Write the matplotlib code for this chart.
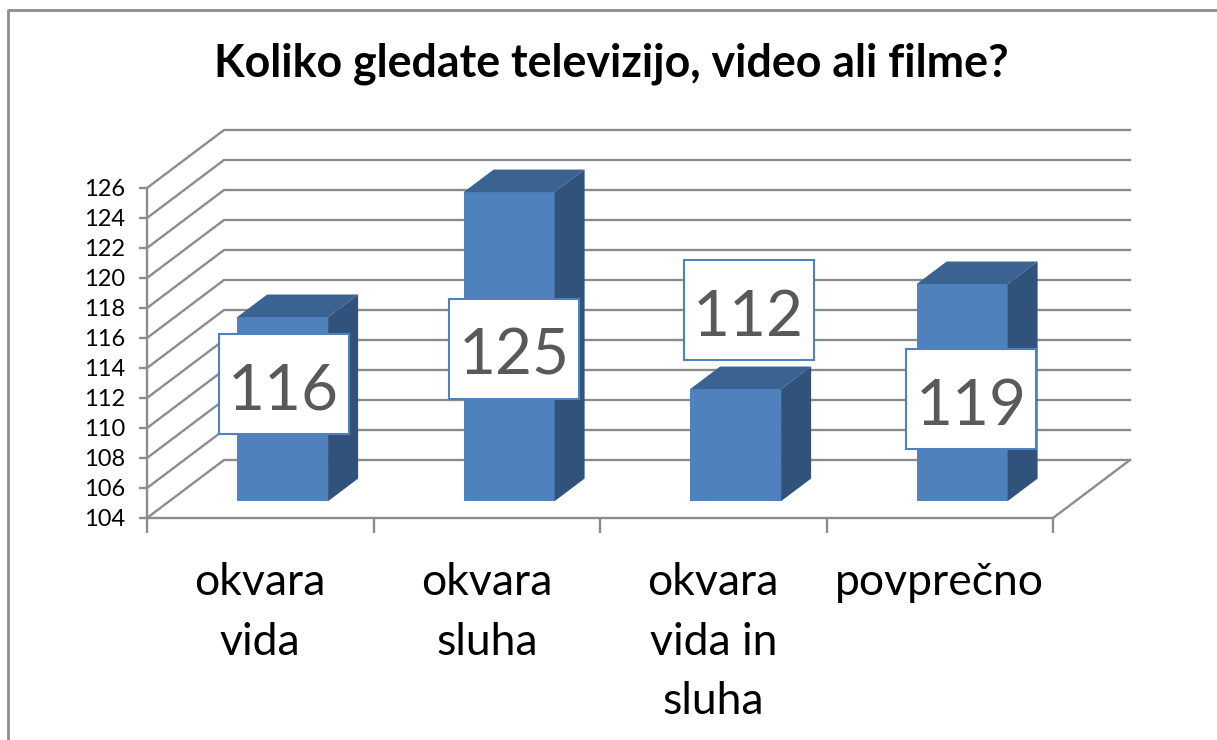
import numpy as np
import matplotlib
matplotlib.use('Agg')
import matplotlib.pyplot as plt
from matplotlib.lines import Line2D
from matplotlib.patches import Polygon
from matplotlib.path import Path

categories = ['okvara\nvida', 'okvara\nsluha', 'okvara\nvida in\nsluha', 'povprečno']
bar_heights = [116.27, 124.6, 111.47, 118.47]
value_labels = ['116', '125', '112', '119']
y_ticks = list(range(104, 128, 2))
title = 'Koliko gledate televizijo, video ali filme?'

W, H = 1217, 740
GRID = '#8c8c8c'
FRONT = '#4f81bd'
TOP = '#3b6391'
SIDE = '#31527b'

# depth of the fake 3d box, in data units
DX = 77 / 226.5
DY = 58 / 15.0
BAR_D0 = 0.29
BAR_D1 = 0.68
BAR_W = 91 / 226.5

# label offsets from top of bar, in pixels
label_offsets = [(1, -69), (5, -159), (13, 77), (9, -117)]


def label_box(x0, y0, width, height, mutation_size):
    """Fixed size box, the labels are all the same size in the reference."""
    cx = x0 + width / 2
    cy = y0 + height / 2 + 8
    pts = [(cx - 65, cy - 50), (cx + 65, cy - 50), (cx + 65, cy + 50), (cx - 65, cy + 50), (cx - 65, cy - 50)]
    return Path(pts, closed=True)


plt.rcParams['font.family'] = ['Lato', 'DejaVu Sans']

fig = plt.figure(figsize=(W / 100, H / 100), dpi=100)
ax = fig.add_axes([147 / W, 1 - 518 / H, 906 / W, 330 / H])
ax.set_xlim(0, 4)
ax.set_ylim(104, 126)
ax.patch.set_visible(False)

# walls and floor
for v in y_ticks:
    ax.plot([0, DX, 4 + DX], [v, v + DY, v + DY], color=GRID, lw=1.7, clip_on=False, zorder=1)
ax.plot([4, 4 + DX], [104, 104 + DY], color=GRID, lw=1.7, clip_on=False, zorder=1)

# bars
centers = np.arange(len(categories)) + 0.5
left = centers + BAR_D0 * DX - BAR_W / 2
base = 104 + BAR_D0 * DY
tops = np.array(bar_heights)
ax.bar(left, tops - base + BAR_D0 * DY, width=BAR_W, bottom=base, align='edge',
       color=FRONT, clip_on=False, zorder=3)
step_x = (BAR_D1 - BAR_D0) * DX
step_y = (BAR_D1 - BAR_D0) * DY
for x0, t in zip(left, tops):
    y_top = t + BAR_D0 * DY
    ax.add_patch(Polygon([(x0, y_top), (x0 + BAR_W, y_top), (x0 + BAR_W + step_x, y_top + step_y),
                          (x0 + step_x, y_top + step_y)], closed=True, fc=TOP, ec='none',
                         clip_on=False, zorder=3))
    ax.add_patch(Polygon([(x0 + BAR_W, base), (x0 + BAR_W, y_top), (x0 + BAR_W + step_x, y_top + step_y),
                          (x0 + BAR_W + step_x, base + step_y)], closed=True, fc=SIDE, ec='none',
                         clip_on=False, zorder=3))

# value labels
for x0, t, lab, off in zip(left, tops, value_labels, label_offsets):
    ax.annotate(lab, xy=(x0 + BAR_W / 2, t + BAR_D0 * DY), xytext=off, textcoords='offset pixels',
                ha='center', va='center_baseline', fontsize=46, color='#595959', zorder=5,
                bbox=dict(boxstyle=label_box, fc='white', ec=FRONT, lw=1.5))

# axes
for s in ['top', 'right']:
    ax.spines[s].set_visible(False)
for s in ['left', 'bottom']:
    ax.spines[s].set_color(GRID)
    ax.spines[s].set_linewidth(1.7)
ax.set_yticks(y_ticks)
ax.tick_params(axis='y', length=6, width=1.7, color=GRID, labelsize=17, pad=10)
ax.set_xticks(range(5))
ax.set_xticklabels([])
ax.tick_params(axis='x', which='major', length=11, width=1.7, color=GRID)
ax.set_xticks(centers, minor=True)
ax.set_xticklabels(categories, minor=True, fontsize=32, linespacing=1.56)
ax.tick_params(axis='x', which='minor', length=0, pad=32)

fig.text(611 / W, 1 - 64 / H, title, ha='center', va='center', fontsize=32.2, fontweight='bold', color='black')

# chart frame, only top and left are in the crop
fig.add_artist(Line2D([8 / W, 8 / W, 1], [0, 1 - 10 / H, 1 - 10 / H], color=GRID, lw=2))

fig.savefig('out.png', dpi=100)
